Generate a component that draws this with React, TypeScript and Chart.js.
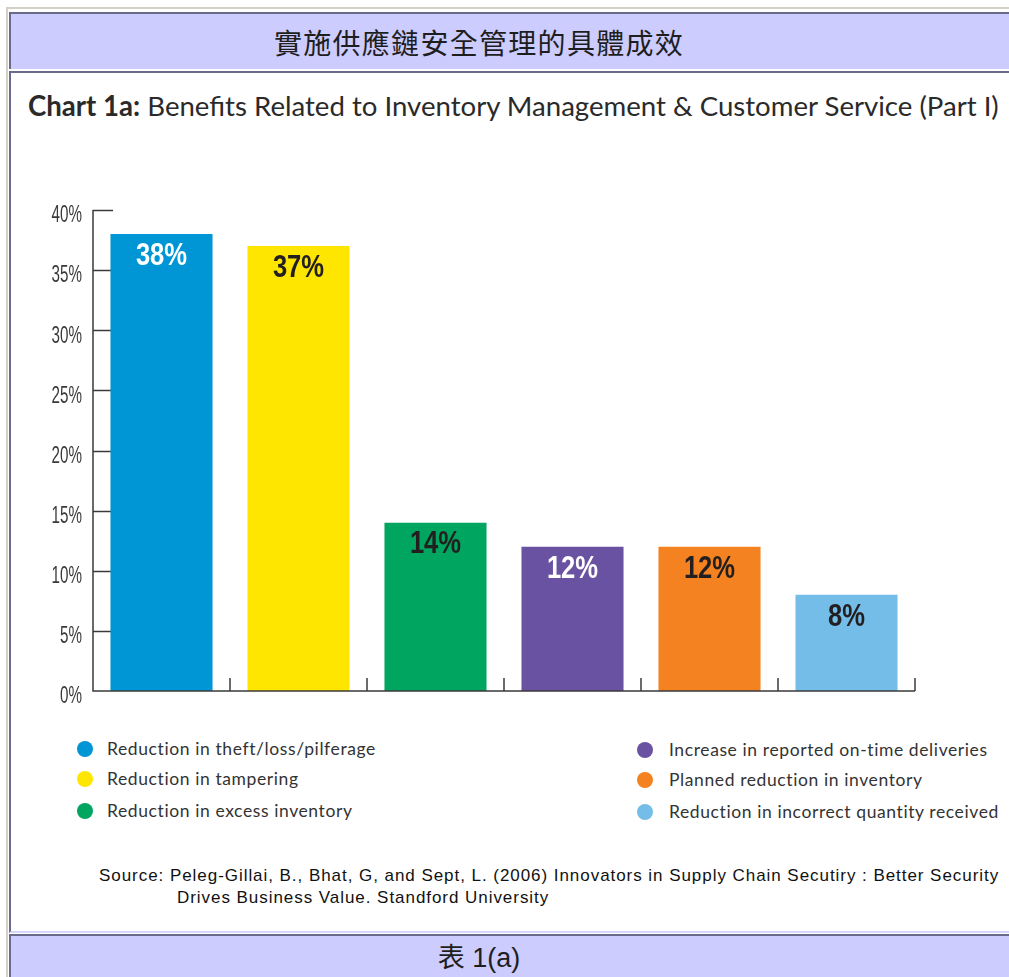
import React, { useEffect, useRef } from "react";
import { Chart, registerables } from "chart.js";

Chart.register(...registerables);

const headerTitle = "實施供應鏈安全管理的具體成效";
const chartTitleBold = "Chart 1a:";
const chartTitleRest = " Benefits Related to Inventory Management & Customer Service (Part I)";
const categories = [
  "Reduction in theft/loss/pilferage",
  "Reduction in tampering",
  "Reduction in excess inventory",
  "Increase in reported on-time deliveries",
  "Planned reduction in inventory",
  "Reduction in incorrect quantity received",
];
const values = [38, 37, 14, 12, 12, 8];
const barColors = ["#0096d6", "#ffe600", "#00a55f", "#6952a1", "#f58220", "#74bde8"];
const valueLabelColors = ["#ffffff", "#231f20", "#231f20", "#ffffff", "#231f20", "#231f20"];
const yTicks = [0, 5, 10, 15, 20, 25, 30, 35, 40];
const yTickLabels = yTicks.map((v) => v + "%");
const sourceLine1 = "Source: Peleg-Gillai, B., Bhat, G, and Sept, L. (2006) Innovators in Supply Chain Secutiry : Better Security";
const sourceLine2 = "Drives Business Value. Standford University";
const footerTitle = "表 1(a)";

const AXIS_COLOR = "#3a3a3a";

const customPlugin = {
  id: "customAxesAndLabels",
  beforeDatasetsDraw(chart: any) {
    const { ctx, chartArea, scales } = chart;
    const y = scales.y;
    ctx.save();
    ctx.strokeStyle = AXIS_COLOR;
    ctx.lineWidth = 1.5;
    yTicks.forEach((v) => {
      if (v === 0) return;
      const py = Math.round(y.getPixelForValue(v)) + 0.5;
      ctx.beginPath();
      ctx.moveTo(chartArea.left, py);
      ctx.lineTo(chartArea.left + 20, py);
      ctx.stroke();
    });
    ctx.restore();
  },
  afterDatasetsDraw(chart: any) {
    const { ctx, chartArea, scales } = chart;
    const x = scales.x;
    const y = scales.y;
    const n = categories.length;
    ctx.save();
    ctx.strokeStyle = AXIS_COLOR;
    ctx.lineWidth = 1.5;
    ctx.beginPath();
    ctx.moveTo(chartArea.left, chartArea.top);
    ctx.lineTo(chartArea.left, chartArea.bottom);
    ctx.lineTo(chartArea.right, chartArea.bottom);
    ctx.stroke();
    for (let i = 0; i < n; i++) {
      const bx =
        i < n - 1
          ? (x.getPixelForValue(i) + x.getPixelForValue(i + 1)) / 2
          : chartArea.right;
      ctx.beginPath();
      ctx.moveTo(bx, chartArea.bottom);
      ctx.lineTo(bx, chartArea.bottom - 13);
      ctx.stroke();
    }
    ctx.fillStyle = "#3a3a3a";
    ctx.font = "23px 'Liberation Sans', Arial, sans-serif";
    ctx.textAlign = "right";
    ctx.textBaseline = "middle";
    yTicks.forEach((v, i) => {
      const py = y.getPixelForValue(v) + 6;
      ctx.save();
      ctx.translate(chartArea.left - 11, py);
      ctx.scale(0.66, 1);
      ctx.fillText(yTickLabels[i], 0, 0);
      ctx.restore();
    });
    const meta = chart.getDatasetMeta(0);
    ctx.font = "bold 32px 'Liberation Sans', Arial, sans-serif";
    ctx.textAlign = "center";
    meta.data.forEach((bar: any, i: number) => {
      ctx.save();
      ctx.fillStyle = valueLabelColors[i];
      ctx.translate(bar.x, bar.y + 22);
      ctx.scale(0.8, 1);
      ctx.fillText(values[i] + "%", 0, 0);
      ctx.restore();
    });
    ctx.restore();
  },
};

function BarChart() {
  const ref = useRef<HTMLCanvasElement | null>(null);
  useEffect(() => {
    if (!ref.current) return;
    const chart = new Chart(ref.current, {
      type: "bar",
      data: {
        labels: categories,
        datasets: [
          {
            data: values,
            backgroundColor: barColors,
            borderWidth: 0,
            categoryPercentage: 1,
            barPercentage: 0.745,
          },
        ],
      },
      options: {
        responsive: false,
        animation: false,
        devicePixelRatio: 1,
        layout: { padding: { left: 93, right: 85, top: 30, bottom: 29 } },
        plugins: { legend: { display: false }, tooltip: { enabled: false } },
        scales: {
          x: { type: "category", display: false, offset: true },
          y: { type: "linear", display: false, min: 0, max: 40 },
        },
      },
      plugins: [customPlugin],
    });
    return () => chart.destroy();
  }, []);
  return (
    <canvas
      ref={ref}
      width={1000}
      height={540}
      style={{ position: "absolute", left: 0, top: 180, width: 1000, height: 540 }}
    />
  );
}

const DARK = "#6a6a8c";
const LAV = "#ccccff";

export default function App() {
  const legendRows = [0, 1, 2];
  const legendTops = [749, 779, 811];
  return (
    <div
      style={{
        position: "fixed",
        inset: 0,
        overflow: "hidden",
        background: "#ffffff",
        fontFamily: "'Liberation Sans', Arial, sans-serif",
      }}
    >
      <div style={{ position: "absolute", left: 6, top: 7, right: -20, height: 2, background: "#d4d0c8" }} />
      <div style={{ position: "absolute", left: 6, top: 7, width: 2, bottom: -20, background: "#d4d0c8" }} />

      <div
        style={{
          position: "absolute",
          left: 9,
          top: 12,
          right: -20,
          height: 57,
          background: LAV,
          borderTop: `2px solid ${DARK}`,
          borderLeft: `2px solid ${DARK}`,
          boxSizing: "border-box",
        }}
      />
      <div
        style={{
          position: "absolute",
          left: 11,
          top: 14,
          width: 936,
          height: 55,
          display: "flex",
          alignItems: "center",
          justifyContent: "center",
          fontFamily: "'Noto Sans CJK TC', 'Noto Sans CJK SC', sans-serif",
          fontSize: 28,
          letterSpacing: 1.3,
          color: "#1e1e1e",
          whiteSpace: "nowrap",
        }}
      >
        {headerTitle}
      </div>

      <div
        style={{
          position: "absolute",
          left: 9,
          top: 71,
          right: -20,
          height: 862,
          background: "#ffffff",
          borderTop: `2px solid ${DARK}`,
          borderLeft: `2px solid ${DARK}`,
          borderBottom: `2px solid #d6d6fb`,
          boxSizing: "border-box",
        }}
      />

      <div
        style={{
          position: "absolute",
          left: 28,
          top: 90,
          fontFamily: "Lato, 'Open Sans', sans-serif",
          fontSize: 27.6,
          lineHeight: "32px",
          color: "#2a2a2a",
          whiteSpace: "nowrap",
        }}
      >
        <span style={{ fontWeight: 700 }}>{chartTitleBold}</span>
        <span>{chartTitleRest}</span>
      </div>

      <BarChart />

      {[0, 1].map((col) =>
        legendRows.map((row) => {
          const idx = col * 3 + row;
          const dotX = col === 0 ? 77 : 637;
          const textX = col === 0 ? 107 : 669;
          const cy = legendTops[row] + (col === 1 ? 1 : 0);
          return (
            <React.Fragment key={idx}>
              <div
                style={{
                  position: "absolute",
                  left: dotX,
                  top: cy - 8,
                  width: 16,
                  height: 16,
                  borderRadius: 8,
                  background: barColors[idx],
                }}
              />
              <div
                style={{
                  position: "absolute",
                  left: textX,
                  top: cy - 11,
                  height: 22,
                  lineHeight: "22px",
                  fontFamily: "Lato, 'Open Sans', sans-serif",
                  fontSize: 17.5,
                  letterSpacing: 0.6,
                  color: "#333333",
                  whiteSpace: "nowrap",
                }}
              >
                {categories[idx]}
              </div>
            </React.Fragment>
          );
        })
      )}

      <div
        style={{
          position: "absolute",
          left: 99,
          top: 865,
          fontSize: 17,
          lineHeight: "22px",
          color: "#111111",
          whiteSpace: "nowrap",
          letterSpacing: 0.95,
        }}
      >
        <div>{sourceLine1}</div>
        <div style={{ paddingLeft: 78 }}>{sourceLine2}</div>
      </div>

      <div
        style={{
          position: "absolute",
          left: 9,
          top: 934,
          right: -20,
          bottom: -20,
          background: LAV,
          borderTop: `2px solid ${DARK}`,
          borderLeft: `2px solid ${DARK}`,
          boxSizing: "border-box",
        }}
      />
      <div
        style={{
          position: "absolute",
          left: 11,
          top: 942,
          width: 936,
          height: 32,
          lineHeight: "32px",
          textAlign: "center",
          fontFamily: "'Liberation Sans', 'Noto Sans CJK TC', sans-serif",
          fontSize: 27,
          color: "#1e1e1e",
          whiteSpace: "nowrap",
        }}
      >
        {footerTitle}
      </div>
    </div>
  );
}
